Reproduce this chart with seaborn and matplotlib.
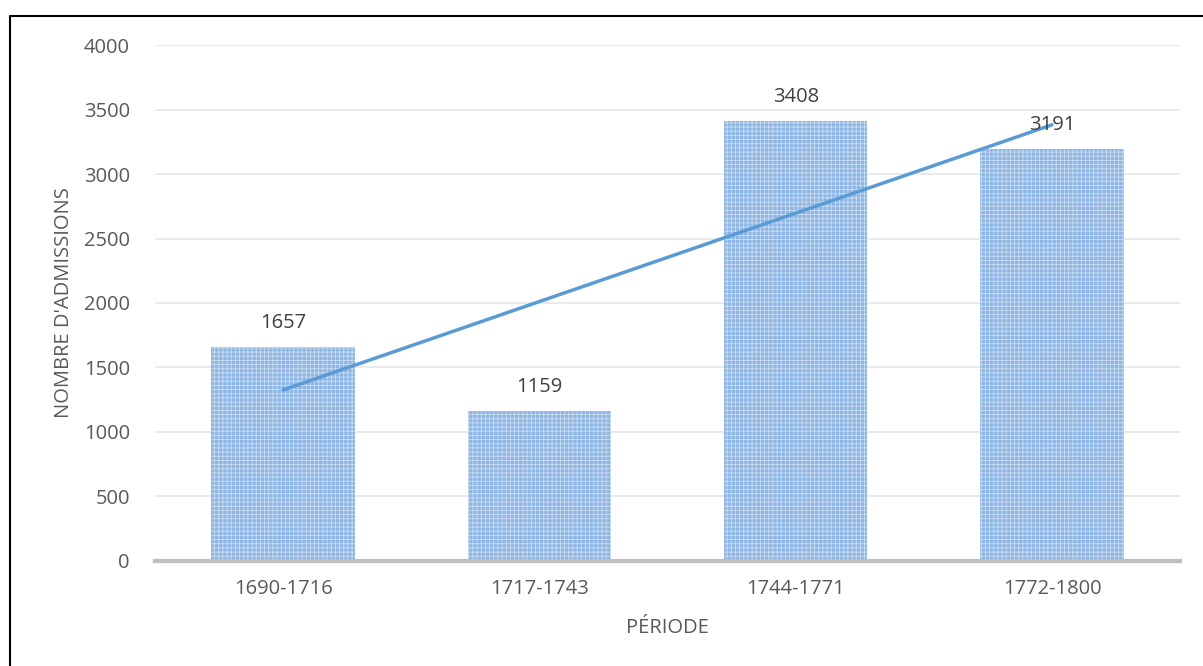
import numpy as np
import pandas as pd
import matplotlib
matplotlib.use("Agg")
import matplotlib.pyplot as plt
import seaborn as sns
from matplotlib.lines import Line2D

periods = ["1690-1716", "1717-1743", "1744-1771", "1772-1800"]
admissions = [1657, 1159, 3408, 3191]
y_ticks = [0, 500, 1000, 1500, 2000, 2500, 3000, 3500, 4000]

df = pd.DataFrame({"periode": periods, "admissions": admissions})

sns.set_theme(style="white")
plt.rcParams["font.family"] = ["Open Sans", "DejaVu Sans"]
plt.rcParams["hatch.color"] = "#c9dcf2"
plt.rcParams["hatch.linewidth"] = 0.6

fig = plt.figure(figsize=(12.03, 6.66), dpi=100)
ax = fig.add_axes([0.1288, 0.1577, 0.8522, 0.7747])

sns.barplot(data=df, x="periode", y="admissions", ax=ax, color="#8db6e4",
            width=0.56, saturation=1, edgecolor="none")
for p in ax.patches:
    p.set_hatch("++++")
    p.set_edgecolor("#c9dcf2")
    p.set_linewidth(0)

# linear trendline
xs = np.arange(len(admissions))
coef = np.polyfit(xs, admissions, 1)
ax.plot(xs, np.polyval(coef, xs), color="#5b9bd5", lw=2.5, zorder=5)

fs = 14.5
for i, v in enumerate(admissions):
    ax.text(i, v + 110, str(v), ha="center", va="bottom", fontsize=fs,
            color="#404040", zorder=6)

ax.set_ylim(0, 4000)
ax.set_xlim(-0.5, 3.5)
ax.set_yticks(y_ticks)
ax.yaxis.grid(True, color="#e6e6e6", lw=1.2)
ax.set_axisbelow(True)
for s in ["top", "right", "left"]:
    ax.spines[s].set_visible(False)
ax.spines["bottom"].set_color("#bfbfbf")
ax.spines["bottom"].set_linewidth(3)
ax.tick_params(axis="both", length=0, labelsize=fs, labelcolor="#595959")
ax.tick_params(axis="y", pad=18)
ax.tick_params(axis="x", pad=13)
ax.set_xlabel("PÉRIODE", fontsize=fs, color="#595959", labelpad=14)
ax.set_ylabel("NOMBRE D'ADMISSIONS", fontsize=fs, color="#595959", labelpad=7)

# outer frame (left and top)
fig.add_artist(Line2D([10/1203, 10/1203], [0, 1 - 16/666], transform=fig.transFigure,
                      color="black", lw=1.5))
fig.add_artist(Line2D([10/1203, 1.0], [1 - 16/666, 1 - 16/666], transform=fig.transFigure,
                      color="black", lw=1.5))

fig.savefig("out.png", dpi=100)
